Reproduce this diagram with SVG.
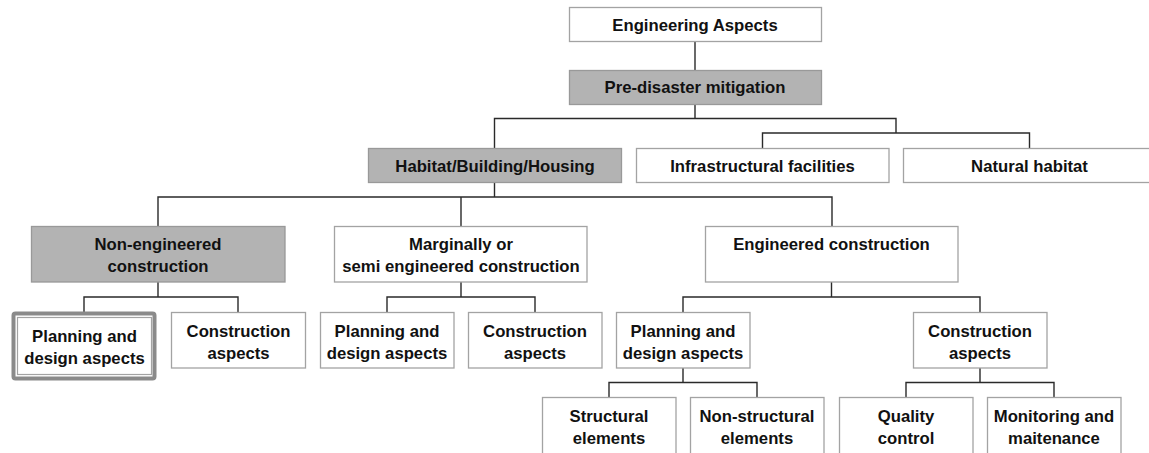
<svg xmlns="http://www.w3.org/2000/svg" width="1149" height="453" viewBox="0 0 1149 453">
<style>
.box{fill:#ffffff;stroke:#a3a3a3;stroke-width:1.3}
.grey{fill:#b3b3b3;stroke:#999999;stroke-width:1.3}
.lbl{font-family:"Liberation Sans",Arial,sans-serif;font-weight:bold;font-size:16.7px;fill:#111111;text-anchor:middle}
.conn{fill:none;stroke:#2a2a2a;stroke-width:1.4}
</style>
<rect width="1149" height="453" fill="#ffffff"/>
<g id="connectors" class="conn">
<path d="M695,41 V70"/>
<path d="M695,104 V118.5 M494.5,148 V118.5 H896 V133 M762.5,148 V133 H1029.5 V148"/>
<path d="M494.5,182 V197 M158,226 V197 H832 V226 M461,197 V226"/>
<path d="M158,282 V297 M84,312 V297 H238 V312"/>
<path d="M461,282 V297 M387,312 V297 H535 V312"/>
<path d="M831.5,282 V297 M683,312 V297 H980 V312"/>
<path d="M683,368 V382.5 M609,397 V382.5 H757 V397"/>
<path d="M980,368 V382.5 M906,397 V382.5 H1054 V397"/>
</g>
<g id="n-engineering-aspects"><rect class="box" x="569.5" y="7.5" width="252" height="34"/><text class="lbl" x="695" y="30.5">Engineering Aspects</text></g>
<g id="n-pre-disaster"><rect class="grey" x="569.5" y="70.5" width="252" height="34"/><text class="lbl" x="695" y="93">Pre-disaster mitigation</text></g>
<g id="n-habitat"><rect class="grey" x="368.5" y="148.5" width="253" height="34"/><text class="lbl" x="495" y="171.5">Habitat/Building/Housing</text></g>
<g id="n-infrastructural"><rect class="box" x="636.5" y="148.5" width="252.5" height="34"/><text class="lbl" x="762.5" y="171.5">Infrastructural facilities</text></g>
<g id="n-natural"><rect class="box" x="903.5" y="148.5" width="254" height="34"/><text class="lbl" x="1029.5" y="171.5">Natural habitat</text></g>
<g id="n-non-engineered"><rect class="grey" x="31.5" y="226.5" width="253.5" height="55.5"/><text class="lbl" x="158" y="249.5">Non-engineered</text><text class="lbl" x="158" y="271.5">construction</text></g>
<g id="n-marginally"><rect class="box" x="334.5" y="226.5" width="252.5" height="55.5"/><text class="lbl" x="461" y="249.5">Marginally or</text><text class="lbl" x="461" y="271.5">semi engineered construction</text></g>
<g id="n-engineered"><rect class="box" x="705.5" y="226.5" width="252.5" height="55.5"/><text class="lbl" x="831.5" y="249.5">Engineered construction</text></g>
<g id="n-ne-planning"><rect x="13.5" y="313.5" width="141" height="65" rx="2" fill="#ffffff" stroke="#8a8a8a" stroke-width="4"/><rect x="17.5" y="317.5" width="134" height="57" fill="#ffffff" stroke="#a3a3a3" stroke-width="1.2"/><text class="lbl" x="84.5" y="341.5">Planning and</text><text class="lbl" x="84.5" y="363.5">design aspects</text></g>
<g id="n-ne-construction"><rect class="box" x="171.5" y="312.5" width="134" height="55.5"/><text class="lbl" x="238.5" y="336.5">Construction</text><text class="lbl" x="238.5" y="358.5">aspects</text></g>
<g id="n-me-planning"><rect class="box" x="320.5" y="312.5" width="133.5" height="55.5"/><text class="lbl" x="387" y="336.5">Planning and</text><text class="lbl" x="387" y="358.5">design aspects</text></g>
<g id="n-me-construction"><rect class="box" x="468.5" y="312.5" width="133.5" height="55.5"/><text class="lbl" x="535" y="336.5">Construction</text><text class="lbl" x="535" y="358.5">aspects</text></g>
<g id="n-e-planning"><rect class="box" x="616.5" y="312.5" width="133.5" height="55.5"/><text class="lbl" x="683" y="336.5">Planning and</text><text class="lbl" x="683" y="358.5">design aspects</text></g>
<g id="n-e-construction"><rect class="box" x="913.5" y="312.5" width="133.5" height="55.5"/><text class="lbl" x="980" y="336.5">Construction</text><text class="lbl" x="980" y="358.5">aspects</text></g>
<g id="n-structural"><rect class="box" x="542.5" y="397.5" width="133.5" height="57"/><text class="lbl" x="609" y="421.5">Structural</text><text class="lbl" x="609" y="443.5">elements</text></g>
<g id="n-non-structural"><rect class="box" x="690.5" y="397.5" width="133.5" height="57"/><text class="lbl" x="757" y="421.5">Non-structural</text><text class="lbl" x="757" y="443.5">elements</text></g>
<g id="n-quality"><rect class="box" x="839.5" y="397.5" width="133.5" height="57"/><text class="lbl" x="906" y="421.5">Quality</text><text class="lbl" x="906" y="443.5">control</text></g>
<g id="n-monitoring"><rect class="box" x="987.5" y="397.5" width="133.5" height="57"/><text class="lbl" x="1054" y="421.5">Monitoring and</text><text class="lbl" x="1054" y="443.5">maitenance</text></g>
</svg>
